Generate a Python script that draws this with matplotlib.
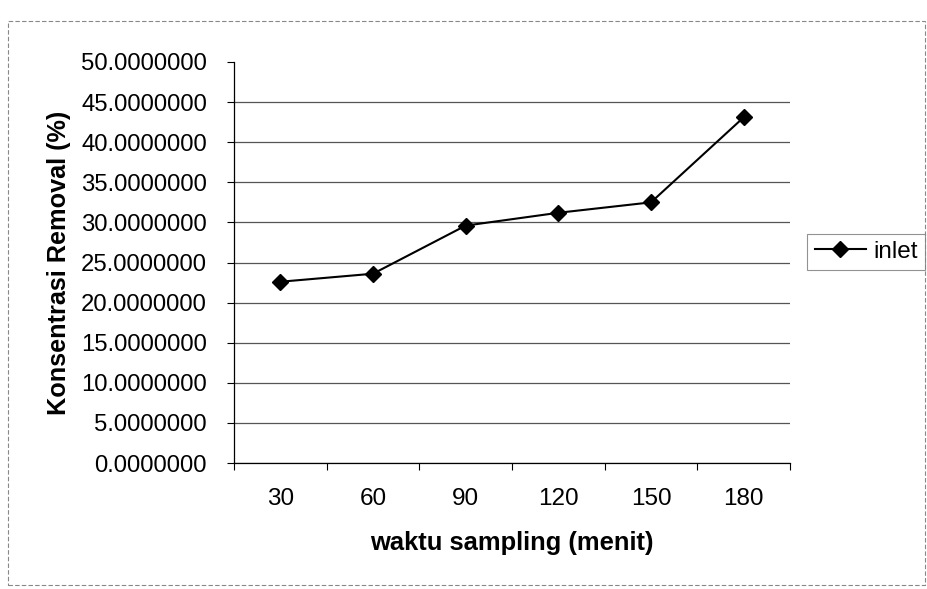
import matplotlib
matplotlib.use("Agg")
from matplotlib import pyplot as plt
from matplotlib.patches import Rectangle
from matplotlib.ticker import FuncFormatter, FixedLocator

plt.rcParams['font.family'] = ['Liberation Sans', 'DejaVu Sans']

# waktu sampling (menit) vs konsentrasi removal (%)
waktu = ['30', '60', '90', '120', '150', '180']
inlet = [22.6, 23.6, 29.6, 31.2, 32.5, 43.1]


def fig_removal():
    fig = plt.figure(figsize=(9.28, 5.89), dpi=100)
    ax = fig.add_axes([234 / 928, 1 - 463 / 589, (790 - 234) / 928, (463 - 62) / 589])

    x = list(range(len(waktu)))
    ax.plot(x, inlet, color='black', lw=1.5, marker='D', markersize=8,
            label='inlet', zorder=3)

    ax.set_xlim(-0.5, len(waktu) - 0.5)
    ax.set_ylim(0, 50)
    ax.set_yticks(range(0, 51, 5))
    ax.yaxis.set_major_formatter(FuncFormatter(lambda v, p: '%.7f' % v))
    ax.set_xticks(x)
    ax.set_xticklabels(waktu)
    ax.xaxis.set_minor_locator(FixedLocator([i - 0.5 for i in range(len(waktu) + 1)]))
    ax.tick_params(axis='x', which='major', length=0, pad=18, labelsize=17.5)
    ax.tick_params(axis='x', which='minor', length=5, direction='out', width=0.8)
    ax.tick_params(axis='y', length=5, width=0.8, direction='out', pad=14.5, labelsize=17.2)

    ax.grid(axis='y', color='#555555', lw=0.9)
    ax.get_ygridlines()[-1].set_visible(False)
    ax.set_axisbelow(True)
    for s in ['top', 'right']:
        ax.spines[s].set_visible(False)
    for s in ['left', 'bottom']:
        ax.spines[s].set_linewidth(0.9)

    ax.set_xlabel('waktu sampling (menit)', fontsize=18.4, fontweight='bold', labelpad=15)
    ax.set_ylabel('Konsentrasi Removal (%)', fontsize=18.2, fontweight='bold', labelpad=7)

    leg = fig.legend(loc='center', bbox_to_anchor=(866 / 928, 1 - 252 / 589),
                     fontsize=17.5, frameon=True, fancybox=False, handlelength=2.1,
                     handletextpad=0.3, borderpad=0.3, borderaxespad=0)
    leg.get_frame().set_edgecolor('#777777')
    leg.get_frame().set_linewidth(0.8)

    fig.patches.append(Rectangle((8 / 928, 4 / 589), 917 / 928, 564 / 589,
                                 transform=fig.transFigure, fill=False,
                                 edgecolor='#888888', lw=0.8, ls=(0, (4, 2))))

    fig.savefig('out.png', dpi=100)


fig_removal()
